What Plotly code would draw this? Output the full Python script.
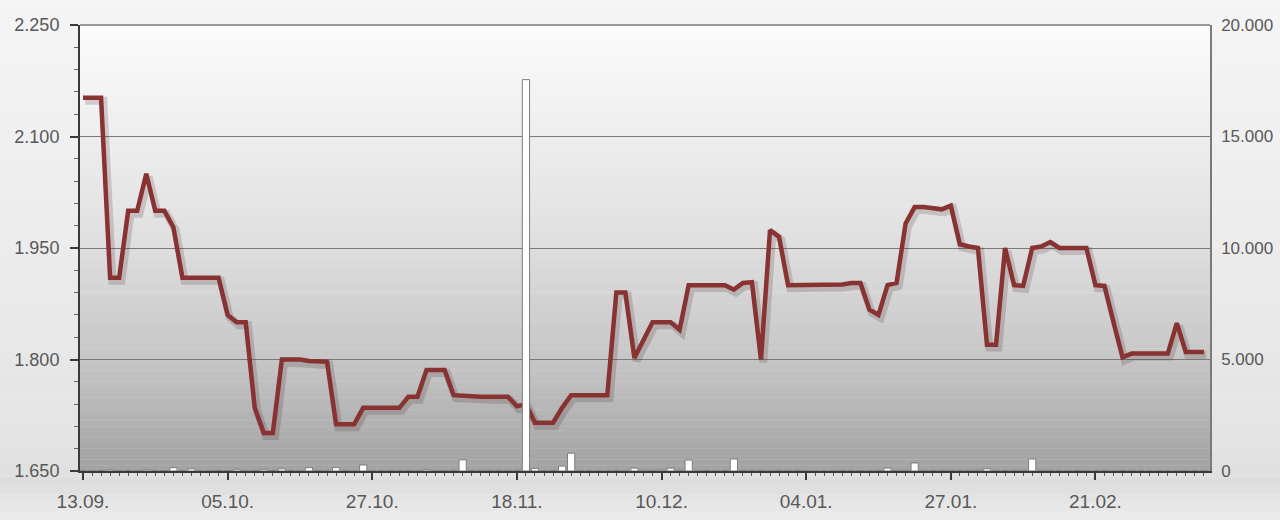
import plotly.graph_objects as go

# ---------------- data ----------------
# trading-day index (x), price (left axis), volume (right axis)
price = [
    2.152, 2.152, 2.152, 1.910, 1.910, 2.000, 2.000, 2.050, 2.000, 2.000,
    1.978, 1.910, 1.910, 1.910, 1.910, 1.910, 1.860, 1.850, 1.850, 1.735,
    1.701, 1.701, 1.800, 1.800, 1.800, 1.798, 1.797, 1.797, 1.713, 1.713,
    1.713, 1.735, 1.735, 1.735, 1.735, 1.735, 1.750, 1.750, 1.786, 1.786,
    1.786, 1.752, 1.751, 1.751, 1.750, 1.750, 1.750, 1.750, 1.737, 1.740,
    1.715, 1.715, 1.715, 1.735, 1.752, 1.752, 1.752, 1.752, 1.752, 1.890,
    1.890, 1.802, 1.825, 1.850, 1.850, 1.850, 1.840, 1.900, 1.900, 1.900,
    1.900, 1.900, 1.894, 1.903, 1.904, 1.800, 1.974, 1.965, 1.900, 1.900,
    1.900, 1.900, 1.900, 1.900, 1.901, 1.903, 1.903, 1.867, 1.860, 1.900,
    1.903, 1.983, 2.005, 2.005, 2.003, 2.002, 2.007, 1.955, 1.952, 1.950,
    1.820, 1.820, 1.950, 1.900, 1.899, 1.950, 1.952, 1.958, 1.950, 1.950,
    1.950, 1.950, 1.900, 1.899, 1.850, 1.803, 1.808, 1.808, 1.808, 1.808,
    1.808, 1.849, 1.810, 1.810, 1.810,
]
volume = [
    0, 0, 20, 50, 0, 20, 0, 50, 0, 20,
    150, 20, 100, 0, 0, 20, 20, 80, 0, 20,
    80, 20, 100, 20, 0, 150, 20, 0, 150, 20,
    0, 270, 0, 0, 20, 0, 20, 0, 60, 0,
    20, 30, 500, 20, 30, 30, 30, 30, 30, 17550,
    120, 0, 20, 220, 800, 0, 0, 0, 0, 20,
    0, 130, 40, 30, 40, 130, 30, 490, 0, 20,
    0, 20, 540, 30, 30, 30, 0, 30, 30, 30,
    0, 0, 0, 0, 20, 0, 20, 0, 30, 130,
    30, 30, 360, 30, 20, 30, 30, 20, 30, 30,
    100, 30, 20, 30, 30, 540, 30, 30, 0, 0,
    20, 0, 0, 30, 0, 20, 30, 0, 0, 0,
    0, 0, 0, 0, 0,
]
x = list(range(len(price)))

x_tick_pos = [0, 16, 32, 48, 64, 80, 96, 112]
x_tick_text = ["13.09.", "05.10.", "27.10.", "18.11.", "10.12.", "04.01.", "27.01.", "21.02."]
y_tick_vals = [1.65, 1.80, 1.95, 2.10, 2.25]
y_tick_text = ["1.650", "1.800", "1.950", "2.100", "2.250"]
y2_tick_vals = [0, 5000, 10000, 15000, 20000]
y2_tick_text = ["0", "5.000", "10.000", "15.000", "20.000"]

# ---------------- styling ----------------
FONT = "Liberation Sans, Arial, sans-serif"
LABEL = "#585858"


def lerp(stops, t):
    for (t0, c0), (t1, c1) in zip(stops, stops[1:]):
        if t0 <= t <= t1:
            f = (t - t0) / (t1 - t0) if t1 > t0 else 0
            return round(c0 + (c1 - c0) * f)
    return stops[-1][1]


shapes = []
# paper background gradient (covers margins)
N = 60
top_p, bot_p = 1 + 25 / 446, -49 / 446
paper_stops = [(0.0, 245), (0.85, 228), (0.93, 222), (1.0, 236)]
for k in range(N):
    t0 = k / N
    t1 = (k + 1) / N
    g = lerp(paper_stops, (t0 + t1) / 2)
    shapes.append(dict(type="rect", xref="paper", yref="paper",
                       x0=-0.1, x1=1.1,
                       y0=top_p - (top_p - bot_p) * t1,
                       y1=top_p - (top_p - bot_p) * t0,
                       fillcolor=f"rgb({g},{g},{g})", line_width=0, layer="below"))
# plot area gradient
M = 80
plot_stops = [(0.0, 252), (0.45, 226), (0.75, 198), (1.0, 162)]
for k in range(M):
    t0 = k / M
    t1 = (k + 1) / M
    g = lerp(plot_stops, (t0 + t1) / 2)
    shapes.append(dict(type="rect", xref="paper", yref="paper",
                       x0=0, x1=1, y0=1 - t1, y1=1 - t0 + 0.0005,
                       fillcolor=f"rgb({g},{g},{g})", line_width=0, layer="below"))
# top border
shapes.append(dict(type="line", xref="paper", yref="paper", x0=0, x1=1, y0=1, y1=1,
                   line=dict(color="#7a7a7a", width=1.5), layer="below"))

fig = go.Figure()

fig.add_trace(go.Bar(
    x=x, y=volume, yaxis="y2", width=0.8,
    marker=dict(color="#ffffff", line=dict(color="#7c7c7c", width=1)),
    hoverinfo="skip", showlegend=False,
))
# soft shadow of the price line
fig.add_trace(go.Scatter(
    x=[v + 0.25 for v in x], y=[p - 0.004 for p in price], mode="lines",
    line=dict(color="rgba(60,30,30,0.18)", width=8), hoverinfo="skip", showlegend=False,
))
fig.add_trace(go.Scatter(
    x=x, y=price, mode="lines",
    line=dict(color="#883232", width=4.5), showlegend=False,
))

fig.update_layout(
    width=1280, height=520,
    margin=dict(l=80, r=70, t=25, b=49),
    paper_bgcolor="#eeeeee", plot_bgcolor="rgba(0,0,0,0)",
    shapes=shapes, bargap=0.2,
    font=dict(family=FONT, size=18, color=LABEL),
    xaxis=dict(
        range=[-0.33, 124.67], tickmode="array", tickvals=x_tick_pos, ticktext=x_tick_text,
        showgrid=False, zeroline=False, showline=True, linecolor="#3a3a3a", linewidth=2,
        ticks="outside", ticklen=7, tickwidth=2, tickcolor="#3a3a3a", automargin=False,
        ticklabelstandoff=5, tickfont=dict(size=19, color=LABEL),
        minor=dict(tickmode="linear", tick0=0, dtick=1, ticks="outside", ticklen=3,
                   tickwidth=1, tickcolor="#555555", showgrid=False),
    ),
    yaxis=dict(
        range=[1.65, 2.25], tickmode="array", tickvals=y_tick_vals, ticktext=y_tick_text,
        showgrid=True, gridcolor="#7a7a7a", gridwidth=1.3, zeroline=False,
        showline=True, linecolor="#3a3a3a", linewidth=2, automargin=False,
        ticks="outside", ticklen=8, tickwidth=2, tickcolor="#3a3a3a",
        ticklabelstandoff=7, tickfont=dict(size=18, color=LABEL),
        minor=dict(tickmode="linear", tick0=1.65, dtick=0.03, ticks="outside", ticklen=4,
                   tickwidth=1, tickcolor="#666666", showgrid=False),
    ),
    yaxis2=dict(
        range=[0, 20000], overlaying="y", side="right", tickmode="array",
        tickvals=y2_tick_vals, ticktext=y2_tick_text, showgrid=False, zeroline=False,
        showline=True, linecolor="#7a7a7a", linewidth=1.5, ticks="", automargin=False,
        ticklabelstandoff=6, tickfont=dict(size=17, color=LABEL),
    ),
)

fig.write_html(
    "out.html",
    config={"displayModeBar": False},
    post_script="document.body.style.margin='0';document.body.style.overflow='hidden';",
)
